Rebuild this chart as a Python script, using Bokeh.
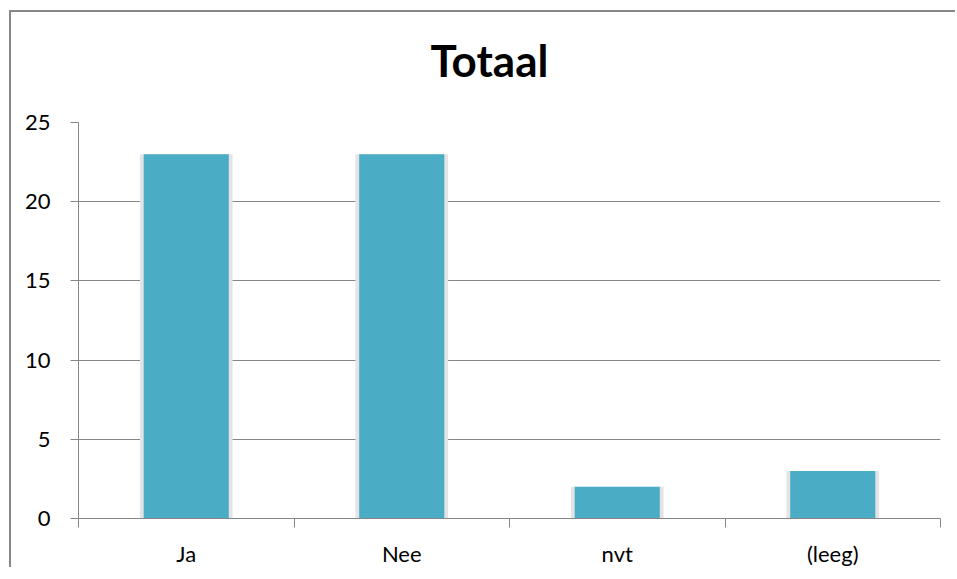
from bokeh.plotting import figure
from bokeh.models import FixedTicker, Range1d, ColumnDataSource, Title
from bokeh.embed import file_html
from bokeh.resources import INLINE

categories = ["Ja", "Nee", "nvt", "(leeg)"]
values = [23, 23, 2, 3]
y_ticks = [0, 5, 10, 15, 20, 25]
title_text = "Totaal"

BAR = "#4BACC6"
GRID = "#868686"
FONT = "Lato"

centers = [i + 0.5 for i in range(len(categories))]
bounds = list(range(len(categories) + 1))
src = ColumnDataSource(dict(x=centers, top=values, cat=categories))

p = figure(width=946, height=557,
           x_range=Range1d(0, len(categories)), y_range=Range1d(0, max(y_ticks)),
           output_backend="svg", toolbar_location=None,
           min_border_left=67, min_border_right=17, min_border_top=110, min_border_bottom=50)
p.styles = {"margin-left": "9px", "margin-top": "10px",
            "border-left": "2px solid #878787", "border-top": "2px solid #878787"}
p.background_fill_color = "white"
p.border_fill_color = "white"
p.outline_line_color = None

# bars with a soft shadow
p.vbar(x="x", top="top", width=0.43, bottom=0, source=src, fill_color="#e4e4e4", line_color=None)
p.vbar(x="x", top="top", width=0.395, bottom=0, source=src, fill_color=BAR, line_color=None)

# spacer between title and plot area
p.add_layout(Title(text=" ", text_font_size="10px", standoff=19), "above")

# title (outermost in the "above" panel)
p.title.text = title_text
p.title.align = "left"
p.title.offset = 352
p.title.text_font = FONT
p.title.text_font_size = "44px"
p.title.text_font_style = "bold"
p.title.text_color = "black"
p.title.standoff = 10

# x axis: ticks between categories, labels at centres
xa = p.xaxis[0]
xa.ticker = FixedTicker(ticks=centers, minor_ticks=bounds)
xa.major_label_overrides = {c: lab for c, lab in zip(centers, categories)}
xa.major_tick_line_color = None
xa.major_tick_out = 0
xa.major_tick_in = 0
xa.minor_tick_line_color = GRID
xa.minor_tick_out = 9
xa.minor_tick_in = 0
xa.axis_line_color = GRID
xa.major_label_text_font = FONT
xa.major_label_text_font_size = "22px"
xa.major_label_text_color = "black"
xa.major_label_standoff = 12

# y axis
ya = p.yaxis[0]
ya.ticker = FixedTicker(ticks=y_ticks, minor_ticks=[])
ya.major_tick_line_color = GRID
ya.major_tick_out = 8
ya.major_tick_in = 0
ya.minor_tick_line_color = None
ya.axis_line_color = GRID
ya.major_label_text_font = FONT
ya.major_label_text_font_size = "22px"
ya.major_label_text_color = "black"
ya.major_label_standoff = 20

p.xgrid.visible = False
p.ygrid.ticker = FixedTicker(ticks=y_ticks, minor_ticks=[])
p.ygrid.grid_line_color = GRID
p.ygrid.grid_line_width = 1

open("out.html", "w").write(file_html(p, INLINE))
